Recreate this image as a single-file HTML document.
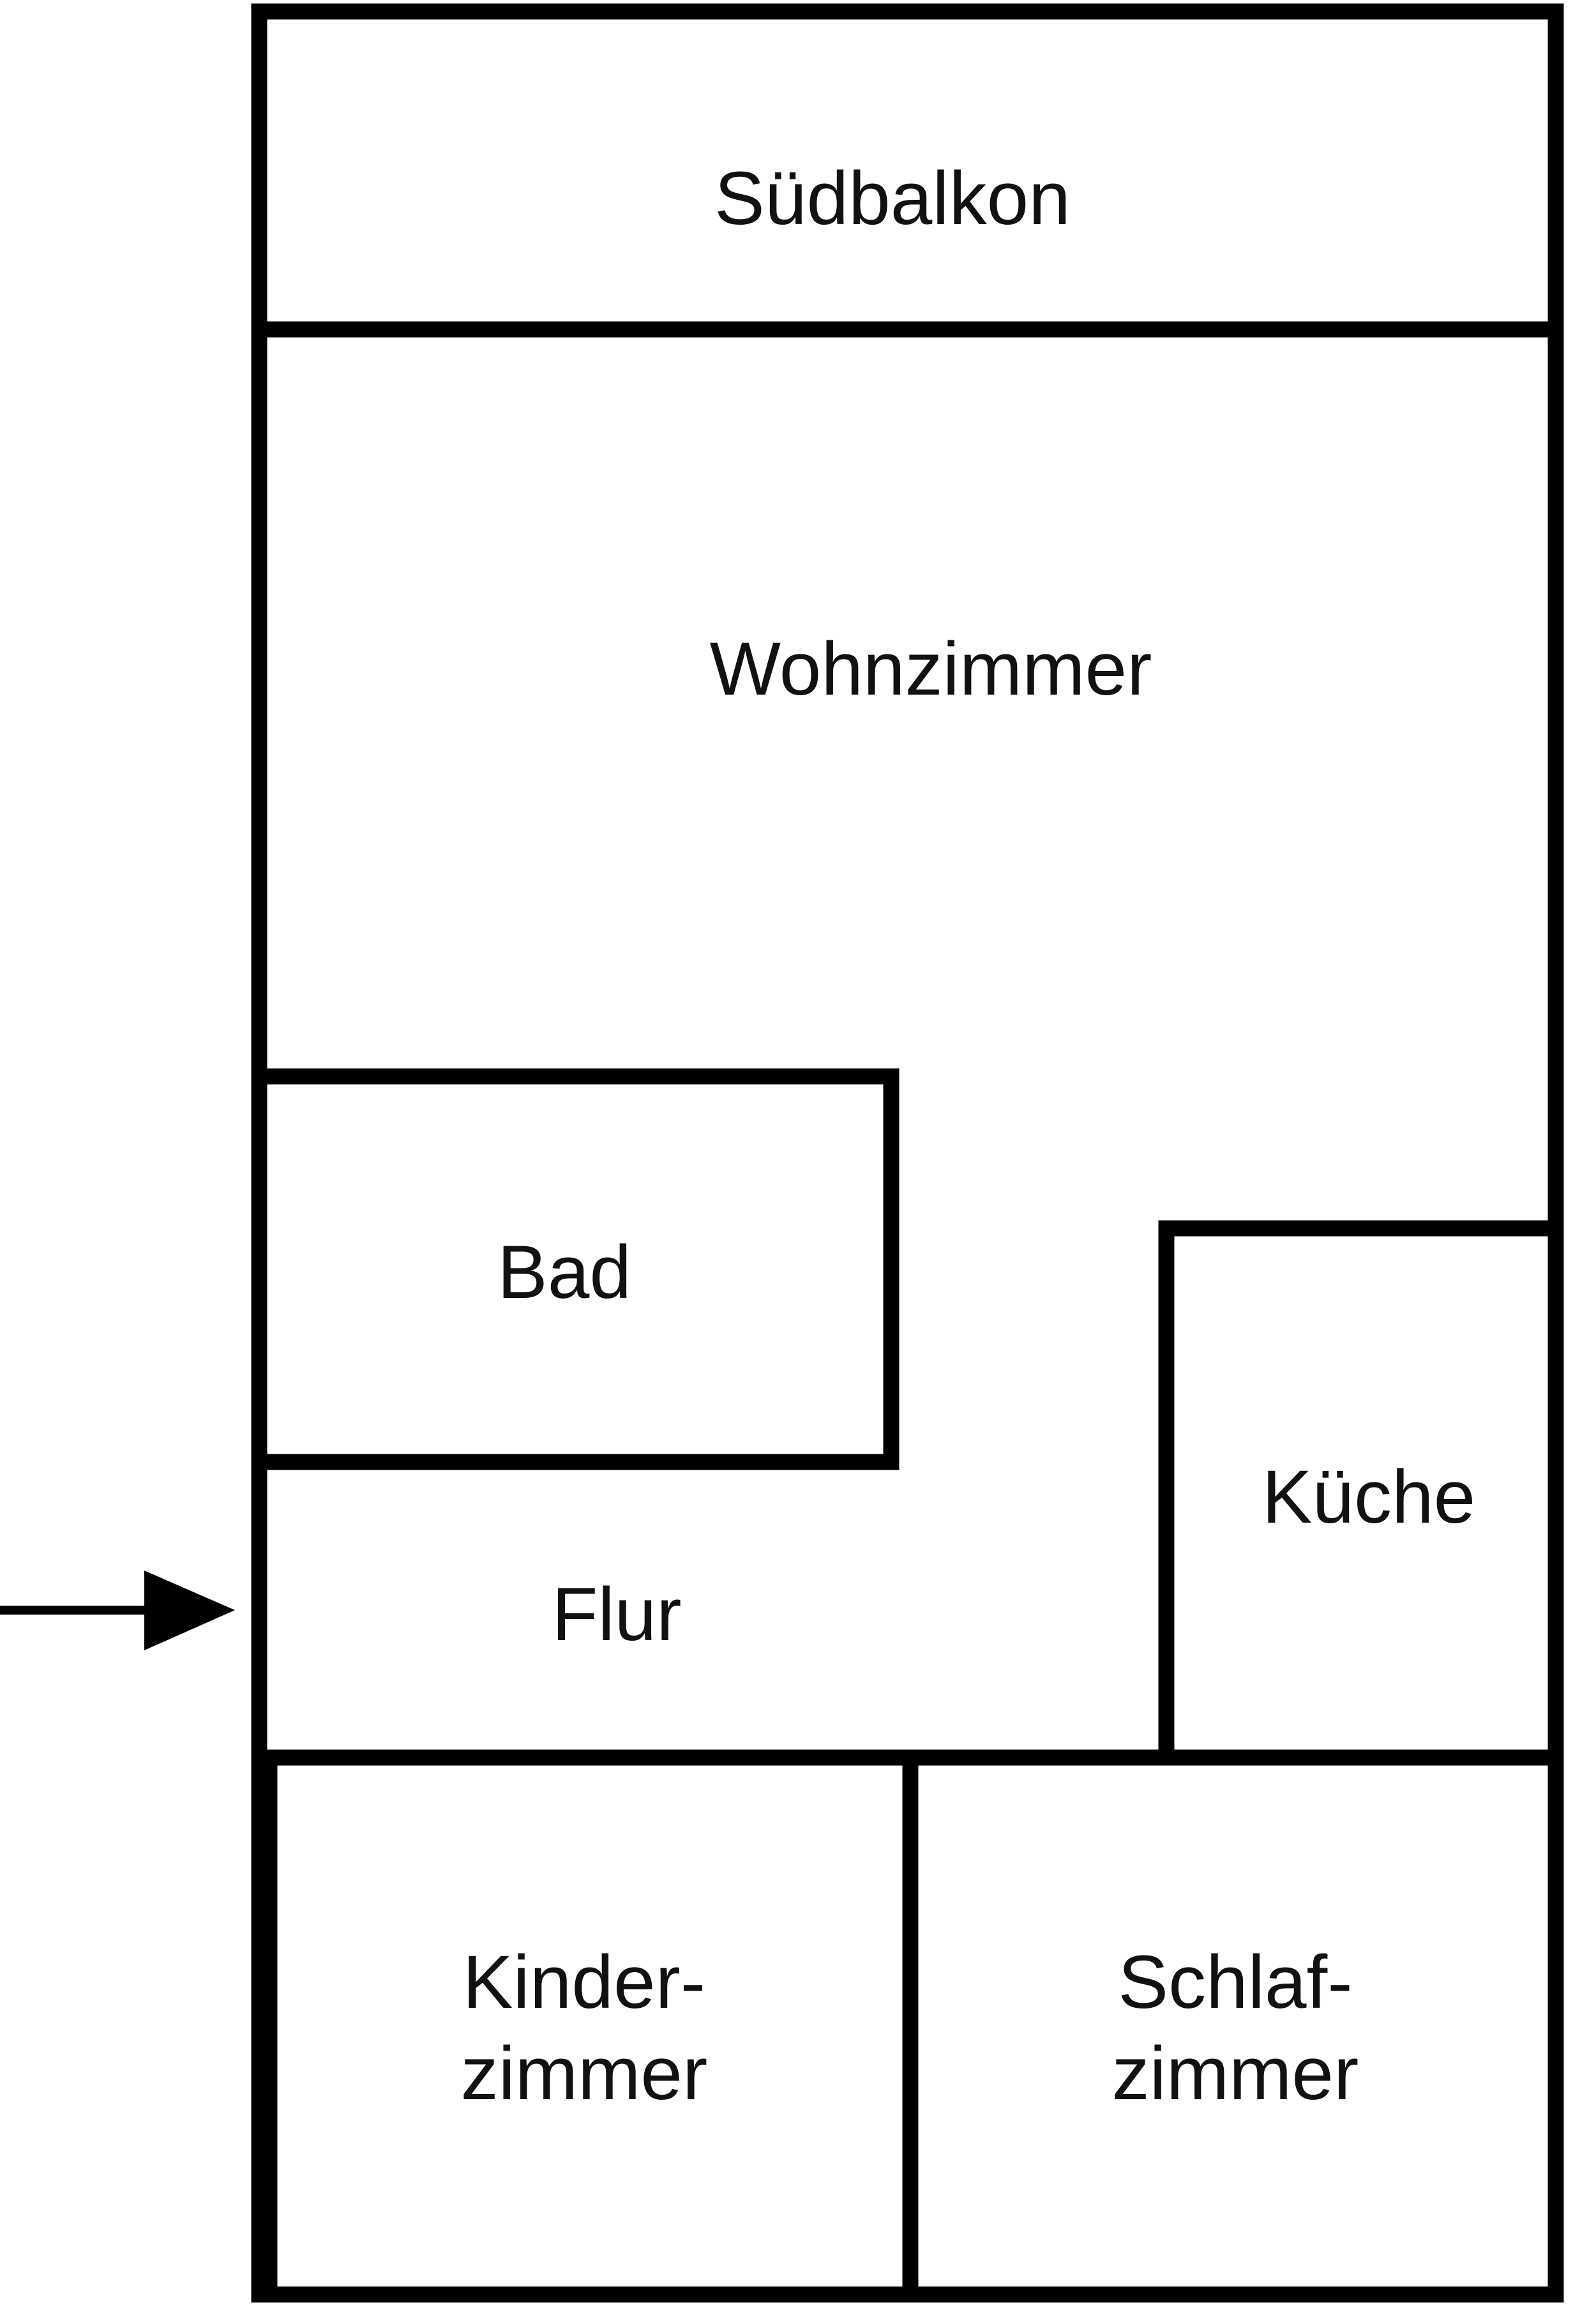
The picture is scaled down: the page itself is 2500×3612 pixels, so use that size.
<!DOCTYPE html>
<html><head><meta charset="utf-8"><style>html,body{margin:0;padding:0;background:#fff}svg{display:block}</style></head>
<body>
<svg width="2500" height="3612" viewBox="0 0 2500 3612" xmlns="http://www.w3.org/2000/svg">
<g fill="none" stroke="#000" stroke-width="25" stroke-linecap="square">
<rect x="406" y="18" width="2031" height="3576"/>
<line x1="406" y1="516" x2="2437" y2="516"/>
<polyline points="406,1686 1396,1686 1396,2290 406,2290"/>
<polyline points="2437,1924 1827,1924 1827,2750"/>
<line x1="406" y1="2753" x2="2437" y2="2753"/>
<line x1="422" y1="2753" x2="422" y2="3594"/>
<line x1="1426" y1="2753" x2="1426" y2="3594"/>
<line x1="0" y1="2522" x2="236" y2="2522" stroke-width="14" stroke-linecap="butt"/>
</g>
<polygon points="226,2460 368,2522 226,2585" fill="#000"/>
<g font-family="Liberation Sans, Arial, sans-serif" font-size="118" text-anchor="middle" dominant-baseline="central" fill="#111">
<text x="1398" y="311">Südbalkon</text>
<text x="1458" y="1048">Wohnzimmer</text>
<text x="884" y="1993">Bad</text>
<text x="2144" y="2345">Küche</text>
<text x="966" y="2529">Flur</text>
<text x="915" y="3105">Kinder-</text>
<text x="915" y="3248">zimmer</text>
<text x="1935" y="3105">Schlaf-</text>
<text x="1935" y="3248">zimmer</text>
</g>
</svg>
</body></html>
